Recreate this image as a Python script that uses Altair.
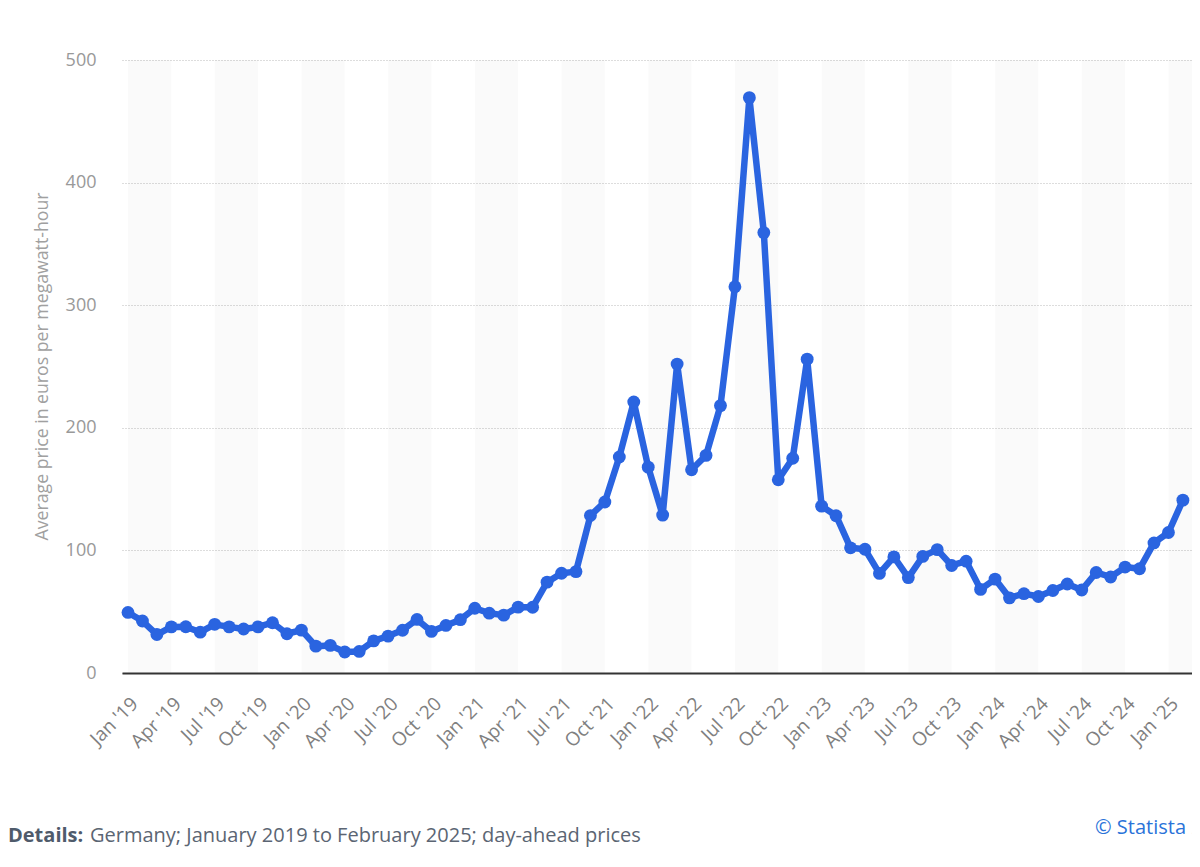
import altair as alt
import pandas as pd

months = [f"{m} '{y:02d}" for y in range(19, 26) for m in
          ["Jan", "Feb", "Mar", "Apr", "May", "Jun", "Jul", "Aug", "Sep", "Oct", "Nov", "Dec"]][:74]

prices = [
    49.4, 42.4, 31.4, 37.6, 37.7, 33.3, 39.7, 37.6, 35.9, 37.6, 41.0, 32.0,
    35.0, 21.9, 22.5, 17.1, 17.6, 26.2, 30.1, 34.9, 43.7, 33.9, 38.8, 43.5,
    52.8, 48.8, 47.2, 53.7, 53.6, 74.1, 81.4, 82.7, 128.4, 139.5, 176.2, 221.1,
    167.9, 128.8, 252.0, 165.8, 177.5, 218.1, 315.1, 469.3, 359.2, 157.6, 175.2, 256.0,
    136.1, 128.3, 102.1, 100.9, 81.2, 94.7, 77.8, 95.1, 100.6, 87.7, 91.2, 68.2,
    76.6, 61.3, 64.7, 62.4, 67.3, 72.6, 67.7, 82.0, 78.3, 86.4, 85.0, 106.1,
    114.6, 141.0,
]

tick_labels = [f"{m} '{y:02d}" for y in range(19, 26) for m in ["Jan", "Apr", "Jul", "Oct"]][:25]
tick_values = list(range(0, 73, 3))

band_starts = list(range(0, 73, 6))
band_ends = [s + 3 for s in band_starts]

y_title = "Average price in euros per megawatt-hour"
details_label = "Details:"
details_text = "Germany; January 2019 to February 2025; day-ahead prices"
source_text = "© Statista 2025"

df = pd.DataFrame({"idx": list(range(len(prices))), "month": months, "price": prices})
bands = pd.DataFrame({"start": band_starts, "end": band_ends})

label_expr = "[" + ",".join('"' + t + '"' for t in tick_labels) + "][round(datum.value/3)]"

xscale = alt.Scale(domain=[-0.415, 73.63], nice=False, zero=False)
yscale = alt.Scale(domain=[0, 500], nice=False)

xaxis = alt.Axis(values=tick_values, labelExpr=label_expr, title=None, grid=False,
                 ticks=False, domain=True, domainColor="#333333", domainWidth=2,
                 labelAngle=-45, labelColor="#808080", labelFontSize=19,
                 labelPadding=21, labelFont="Open Sans", labelOverlap=False,
                 labelBound=False, labelFlush=False, zindex=1)
yaxis = alt.Axis(values=[0, 100, 200, 300, 400, 500], title=y_title, grid=True,
                 gridDash=[1, 2], gridColor="#bbbbbb", domain=False, ticks=False,
                 labelColor="#999999", labelFontSize=18, labelPadding=26,
                 labelFont="Open Sans", titleFont="Open Sans", titleFontSize=17.7,
                 titleColor="#a0a0a0", titleFontWeight="normal", titleX=-80, titleY=306,
                 titleBaseline="middle", titleAlign="center")

band_layer = alt.Chart(bands).mark_rect(color="#000000", opacity=0.02, clip=True).encode(
    x=alt.X("start:Q", scale=xscale, axis=xaxis),
    x2="end:Q",
    y=alt.value(0),
    y2=alt.value(613),
)

line_layer = alt.Chart(df).mark_line(color="#2a64e0", strokeWidth=6.5, strokeJoin="round").encode(
    x=alt.X("idx:Q", scale=xscale, axis=xaxis),
    y=alt.Y("price:Q", scale=yscale, axis=yaxis),
)

point_layer = alt.Chart(df).mark_circle(color="#2a64e0", size=165, opacity=1).encode(
    x=alt.X("idx:Q", scale=xscale),
    y=alt.Y("price:Q", scale=yscale),
)

details_bold = alt.Chart(pd.DataFrame({"t": [details_label]})).mark_text(
    align="left", baseline="middle", font="Open Sans", fontSize=20, fontWeight="bold",
    color="#4f5b6b").encode(x=alt.value(-114), y=alt.value(776), text="t:N")

details_rest = alt.Chart(pd.DataFrame({"t": [details_text]})).mark_text(
    align="left", baseline="middle", font="Open Sans", fontSize=20,
    color="#5b6573").encode(x=alt.value(-32), y=alt.value(776), text="t:N")

source = alt.Chart(pd.DataFrame({"t": [source_text]})).mark_text(
    align="left", baseline="middle", font="Open Sans", fontSize=20,
    color="#2a73d9").encode(x=alt.value(973), y=alt.value(768), text="t:N")

chart = alt.layer(band_layer, line_layer, point_layer, details_bold, details_rest, source).properties(
    width=1070, height=613,
    background="white",
    autosize=alt.AutoSizeParams(type="none"),
    padding={"left": 114, "top": 52, "right": 0, "bottom": 185},
).configure_view(stroke=None)

chart.save("out.html", embed_options={"renderer": "svg", "actions": False})
